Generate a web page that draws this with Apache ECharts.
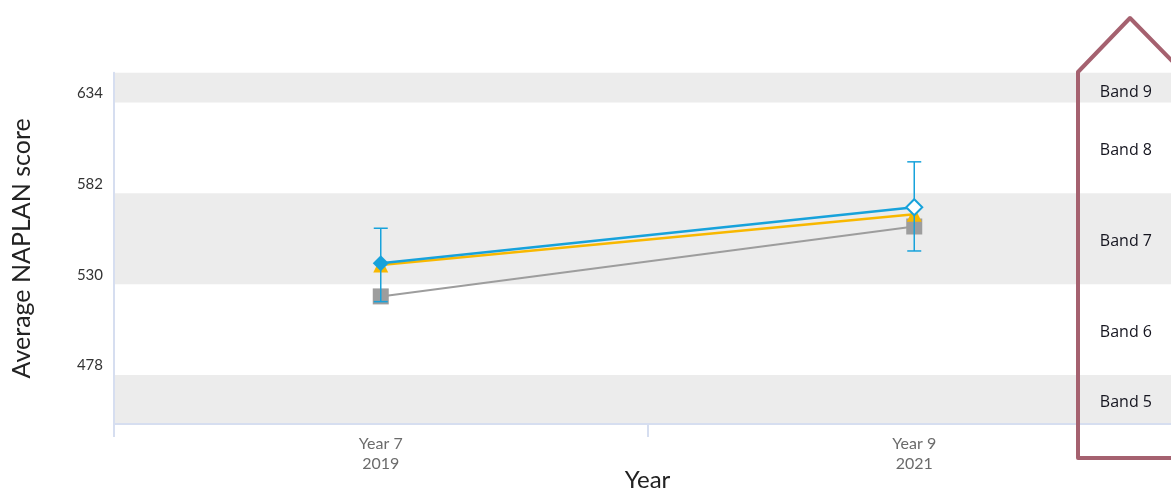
<!DOCTYPE html>
<html>
<head>
<meta charset="utf-8">
<script src="https://cdn.jsdelivr.net/npm/echarts@6/dist/echarts.min.js"></script>
<style>html,body{margin:0;padding:0;background:#fff;}#c{width:1171px;height:492px;}</style>
</head>
<body>
<div id="c"></div>
<script>
// ---- data ----
const categories = ['Year 7\n2019', 'Year 9\n2021'];
const schoolScores = [542, 574];        // blue diamonds
const errLow = [520, 549];
const errHigh = [562, 600];
const similarScores = [541, 570];       // yellow triangles
const stateScores = [523, 563];         // grey squares
const bandNames = ['Band 5', 'Band 6', 'Band 7', 'Band 8', 'Band 9'];
const bandEdges = [450, 478, 530, 582, 634, 651];
const bandShaded = [true, false, true, false, true];
const yTickValues = [478, 530, 582, 634];

const BLUE = '#17a2db', YELLOW = '#f8b800', GREY = '#9d9d9d';

const bandData = bandNames.map((n, i) => [
  { yAxis: bandEdges[i], name: n,
    itemStyle: { color: bandShaded[i] ? '#ececec' : 'rgba(0,0,0,0)' },
    label: { offset: [0, i === 4 ? 5 : 3] } },
  { yAxis: bandEdges[i + 1] }
]);

const chart = echarts.init(document.getElementById('c'), null, { renderer: 'canvas' });
chart.setOption({
  animation: false,
  grid: { left: 114, right: -10, top: 72.7, bottom: 68, containLabel: false, outerBoundsMode: 'none' },
  xAxis: {
    type: 'category', data: categories, boundaryGap: true, z: 10,
    name: 'Year', nameLocation: 'middle', nameGap: 44, nameMoveOverlap: false,
    nameTextStyle: { fontFamily: 'Lato', fontSize: 24, color: '#222' },
    axisLine: { lineStyle: { color: '#d6def0', width: 2 } },
    axisTick: { show: true, length: 13, lineStyle: { color: '#d6def0', width: 2 } },
    axisLabel: { fontFamily: 'Lato', fontSize: 16, color: '#6b6b6b', lineHeight: 20, margin: 10 },
    splitLine: { show: false }
  },
  yAxis: {
    type: 'value', min: 450, max: 651, z: 10,
    name: 'Average NAPLAN score', nameLocation: 'middle', nameGap: 80, nameRotate: 90,
    nameTextStyle: { fontFamily: 'Lato', fontSize: 25, color: '#222' },
    axisLine: { show: true, lineStyle: { color: '#d6def0', width: 2 } },
    axisTick: { show: false },
    splitLine: { show: false },
    axisLabel: { customValues: yTickValues, fontFamily: 'Lato', fontSize: 15, color: '#333',
                 verticalAlign: 'bottom', padding: [0, 0, 2, 0], margin: 11 }
  },
  series: [
    {
      type: 'line', name: 'State', data: stateScores, z: 2,
      symbol: 'rect', symbolSize: 16,
      lineStyle: { color: GREY, width: 2 }, itemStyle: { color: GREY },
      markArea: {
        silent: true,
        label: { show: true, position: 'insideRight', distance: 29,
                 fontFamily: 'Open Sans', fontSize: 16, color: '#15151f' },
        data: bandData
      }
    },
    {
      type: 'line', name: 'Similar', data: similarScores, z: 3,
      symbol: 'triangle', symbolSize: 15,
      lineStyle: { color: YELLOW, width: 2.5 }, itemStyle: { color: YELLOW }
    },
    {
      type: 'custom', name: 'err', z: 4,
      data: categories.map((c, i) => [i, errLow[i], errHigh[i]]),
      renderItem: function (params, api) {
        const lo = api.coord([api.value(0), api.value(1)]);
        const hi = api.coord([api.value(0), api.value(2)]);
        const w = 7;
        const st = { stroke: BLUE, lineWidth: 1.5 };
        return { type: 'group', children: [
          { type: 'line', shape: { x1: lo[0], y1: lo[1], x2: hi[0], y2: hi[1] }, style: st },
          { type: 'line', shape: { x1: lo[0] - w, y1: lo[1], x2: lo[0] + w, y2: lo[1] }, style: st },
          { type: 'line', shape: { x1: hi[0] - w, y1: hi[1], x2: hi[0] + w, y2: hi[1] }, style: st }
        ]};
      }
    },
    {
      type: 'line', name: 'School', z: 5,
      data: [
        { value: schoolScores[0] },
        { value: schoolScores[1], itemStyle: { color: '#fff', borderColor: BLUE, borderWidth: 2 } }
      ],
      symbol: 'diamond', symbolSize: 16,
      lineStyle: { color: BLUE, width: 2.5 }, itemStyle: { color: BLUE }
    }
  ],
  graphic: [{
    type: 'polyline', z: 100, silent: true,
    shape: { points: [[1200, 458], [1078, 458], [1078, 72], [1130, 18], [1183, 72], [1183, 470]] },
    style: { stroke: '#a5616f', lineWidth: 4, fill: null, lineJoin: 'round' }
  }]
});
</script>
</body>
</html>
